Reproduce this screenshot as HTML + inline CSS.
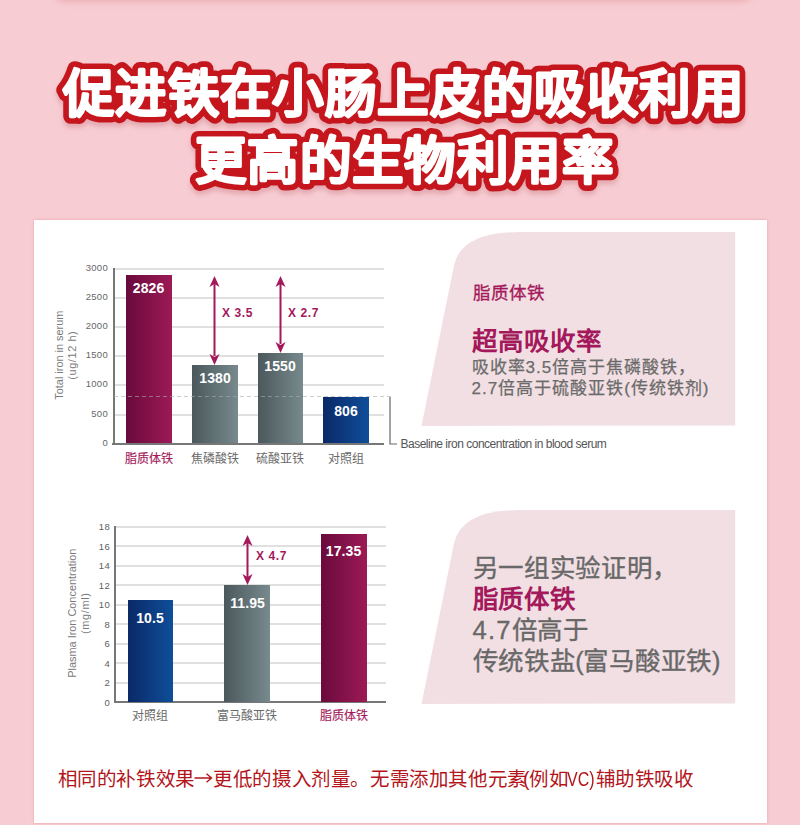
<!DOCTYPE html>
<html lang="zh-CN">
<head>
<meta charset="utf-8">
<style>
*{margin:0;padding:0;box-sizing:border-box;}
html,body{width:800px;height:825px;overflow:hidden;}
body{background:#f7cdd3;font-family:"Liberation Sans",sans-serif;position:relative;}
.abs{position:absolute;}
.topcard{position:absolute;left:54px;top:-20px;width:698px;height:20px;background:#f7cdd3;box-shadow:0 1.5px 6px rgba(228,140,140,.5);border-radius:0 0 10px 10px;}
.card{position:absolute;left:34px;top:220px;width:733px;height:603px;background:#fff;box-shadow:0 0 3px rgba(232,150,160,.75);}
.grid{position:absolute;height:2px;background:#e0e0e0;}
.axisv{position:absolute;width:2px;background:#777;}
.axish{position:absolute;height:2px;background:#777;}
.tick{position:absolute;font-size:9.5px;color:#666;text-align:right;width:40px;line-height:10px;letter-spacing:.3px;}
.bar{position:absolute;}
.mag{background:linear-gradient(to right,#6a0a3c,#9c1a56);}
.gry{background:linear-gradient(to right,#4b585c,#778a8d);}
.blu{background:linear-gradient(to right,#0a2967,#0f4e9a);}
.val{position:absolute;color:#fff;font-weight:700;font-size:14px;letter-spacing:.1px;text-indent:.1px;text-align:center;width:60px;line-height:14px;}
.cat{position:absolute;font-size:12px;color:#6a6a6a;text-align:center;width:80px;line-height:14px;white-space:nowrap;}
.cat.m{color:#a3195b;-webkit-text-stroke:.15px #a3195b;}
.mult{position:absolute;color:#a3195b;font-weight:700;font-size:12px;letter-spacing:.6px;line-height:14px;white-space:nowrap;}
.ylab{position:absolute;color:#7a7a7a;font-size:10.9px;line-height:13.2px;height:26.4px;text-align:center;white-space:nowrap;transform:rotate(-90deg);transform-origin:center center;}
.ptext{position:absolute;white-space:nowrap;}
.foot{position:absolute;top:765.7px;font-size:19.5px;letter-spacing:-0.4px;color:#b3151b;white-space:nowrap;line-height:26px;}
</style>
</head>
<body>
<div class="topcard"></div>

<svg class="abs" style="left:0;top:0;" width="800" height="210">
  <defs>
    <filter id="ts" x="-5%" y="-20%" width="110%" height="150%">
      <feGaussianBlur in="SourceAlpha" stdDeviation="2.5"/>
      <feOffset dx="0" dy="4" result="b"/>
      <feFlood flood-color="#b85a64" flood-opacity="0.32"/>
      <feComposite in2="b" operator="in"/>
      <feMerge><feMergeNode/><feMergeNode in="SourceGraphic"/></feMerge>
    </filter>
  </defs>
  <g font-family="Liberation Sans, sans-serif" font-size="51.5" font-weight="900" text-anchor="middle" letter-spacing="0.4">
    <g filter="url(#ts)" fill="#c4161c" stroke="#c4161c" stroke-width="13.6" stroke-linejoin="round">
      <text x="403.5" y="112">促进铁在小肠上皮的吸收利用</text>
      <text x="404.5" y="179">更高的生物利用率</text>
    </g>
    <g fill="#fff" stroke="#fff" stroke-width="2.2" stroke-linejoin="round">
      <text x="403.5" y="112">促进铁在小肠上皮的吸收利用</text>
      <text x="404.5" y="179">更高的生物利用率</text>
    </g>
  </g>
</svg>

<div class="card"></div>

<!-- CHART 1 -->
<div class="grid" style="left:114px;top:267.5px;width:270px;"></div>
<div class="grid" style="left:114px;top:296.5px;width:270px;"></div>
<div class="grid" style="left:114px;top:325.5px;width:270px;"></div>
<div class="grid" style="left:114px;top:354.5px;width:270px;"></div>
<div class="grid" style="left:114px;top:383.5px;width:270px;"></div>
<div class="grid" style="left:114px;top:413.5px;width:270px;"></div>

<div class="axisv" style="left:112.5px;top:268px;height:177px;"></div>
<div class="axish" style="left:112px;top:443px;width:272px;"></div>
<div class="tick" style="left:68px;top:263px;">3000</div>
<div class="tick" style="left:68px;top:292px;">2500</div>
<div class="tick" style="left:68px;top:321px;">2000</div>
<div class="tick" style="left:68px;top:350px;">1500</div>
<div class="tick" style="left:68px;top:379px;">1000</div>
<div class="tick" style="left:68px;top:409px;">500</div>
<div class="tick" style="left:68px;top:438px;">0</div>
<div class="ylab" style="left:15.6px;top:342.3px;width:100px;">Total iron in serum<br><span style="letter-spacing:.6px">(ug/12 h)</span></div>

<div class="bar mag" style="left:126px;top:275px;width:46px;height:168px;"></div>
<div class="bar gry" style="left:192px;top:365px;width:46px;height:78px;"></div>
<div class="bar gry" style="left:258px;top:353px;width:45px;height:90px;"></div>
<div class="bar blu" style="left:323px;top:397px;width:46px;height:46px;"></div>
<svg class="abs" style="left:110px;top:390px;" width="290" height="60">
  <line x1="4" y1="6.5" x2="283" y2="6.5" stroke="rgba(170,170,170,.6)" stroke-width="1" stroke-dasharray="4,3"/>
  <path d="M280 7 V54 H287" fill="none" stroke="#666" stroke-width="1.2"/>
</svg>
<div class="val" style="left:118.5px;top:281px;">2826</div>
<div class="val" style="left:185px;top:371px;">1380</div>
<div class="val" style="left:250px;top:359px;">1550</div>
<div class="val" style="left:316px;top:404px;">806</div>

<svg class="abs" style="left:200px;top:270px;" width="100" height="100">
  <g stroke="#a3195b" stroke-width="2" fill="#a3195b">
    <line x1="14.5" y1="10" x2="14.5" y2="86"/>
    <line x1="80.5" y1="10" x2="80.5" y2="74"/>
  </g>
  <g fill="#a3195b">
    <path d="M14.5 6 L9.5 17 L14.5 14 L19.5 17Z"/>
    <path d="M14.5 95 L9.5 84 L14.5 87 L19.5 84Z"/>
    <path d="M80.5 6 L75.5 17 L80.5 14 L85.5 17Z"/>
    <path d="M80.5 83 L75.5 72 L80.5 75 L85.5 72Z"/>
  </g>
</svg>
<div class="mult" style="left:222px;top:306px;">X 3.5</div>
<div class="mult" style="left:288px;top:306px;">X 2.7</div>

<div class="cat m" style="left:109px;top:451.5px;">脂质体铁</div>
<div class="cat" style="left:175px;top:451.5px;">焦磷酸铁</div>
<div class="cat" style="left:240px;top:451.5px;">硫酸亚铁</div>
<div class="cat" style="left:306px;top:451.5px;">对照组</div>
<div class="abs" style="left:400.5px;top:437px;font-size:12px;letter-spacing:-0.5px;color:#555;white-space:nowrap;line-height:14px;">Baseline iron concentration in blood serum</div>

<!-- PANEL 1 -->
<svg class="abs" style="left:420px;top:232px;" width="320" height="196">
  <path d="M1.5 194 L34 33.5 Q41 0 100 0 L315.2 0 L315.2 193.5 Z" fill="#f2dfe3"/>
</svg>
<div class="ptext" style="left:472.5px;top:283px;font-size:17.5px;letter-spacing:1.3px;color:#a3195b;line-height:20px;-webkit-text-stroke:.3px #a3195b;">脂质体铁</div>
<div class="ptext" style="left:472px;top:326px;font-size:25.5px;color:#a3195b;font-weight:700;line-height:30px;">超高吸收率</div>
<div class="ptext" style="left:471.5px;top:356.5px;font-size:17px;letter-spacing:1px;color:#6b6b6b;line-height:21px;-webkit-text-stroke:.25px #6b6b6b;">吸收率3.5倍高于焦磷酸铁，<br>2.7倍高于硫酸亚铁(传统铁剂)</div>

<!-- CHART 2 -->
<div class="grid" style="left:116px;top:525.5px;width:270px;"></div>
<div class="grid" style="left:116px;top:545px;width:270px;"></div>
<div class="grid" style="left:116px;top:564.5px;width:270px;"></div>
<div class="grid" style="left:116px;top:584px;width:270px;"></div>
<div class="grid" style="left:116px;top:603.5px;width:270px;"></div>
<div class="grid" style="left:116px;top:623px;width:270px;"></div>
<div class="grid" style="left:116px;top:642.5px;width:270px;"></div>
<div class="grid" style="left:116px;top:662px;width:270px;"></div>
<div class="grid" style="left:116px;top:681.5px;width:270px;"></div>
<div class="axisv" style="left:114px;top:526px;height:177px;"></div>
<div class="axish" style="left:114px;top:701px;width:272px;"></div>
<div class="tick" style="left:70px;top:522px;color:#5e5e5e;">18</div>
<div class="tick" style="left:70px;top:542px;color:#5e5e5e;">16</div>
<div class="tick" style="left:70px;top:561px;color:#5e5e5e;">14</div>
<div class="tick" style="left:70px;top:581px;color:#5e5e5e;">12</div>
<div class="tick" style="left:70px;top:600px;color:#5e5e5e;">10</div>
<div class="tick" style="left:70px;top:620px;color:#5e5e5e;">8</div>
<div class="tick" style="left:70px;top:639px;color:#5e5e5e;">6</div>
<div class="tick" style="left:70px;top:659px;color:#5e5e5e;">4</div>
<div class="tick" style="left:70px;top:678px;color:#5e5e5e;">2</div>
<div class="tick" style="left:70px;top:698px;color:#5e5e5e;">0</div>
<div class="ylab" style="left:-1.2px;top:600px;width:160px;">Plasma Iron Concentration<br><span style="letter-spacing:.7px">(mg/ml)</span></div>

<div class="bar blu" style="left:128px;top:600px;width:45px;height:102px;"></div>
<div class="bar gry" style="left:224px;top:585px;width:46px;height:117px;"></div>
<div class="bar mag" style="left:321px;top:534px;width:46px;height:168px;"></div>
<div class="val" style="left:120px;top:611px;">10.5</div>
<div class="val" style="left:217.5px;top:596px;">11.95</div>
<div class="val" style="left:313.5px;top:544px;">17.35</div>

<svg class="abs" style="left:237px;top:530px;" width="30" height="60">
  <line x1="10.5" y1="8" x2="10.5" y2="52" stroke="#a3195b" stroke-width="2"/>
  <g fill="#a3195b">
    <path d="M10.5 5 L5.5 16 L10.5 13 L15.5 16Z"/>
    <path d="M10.5 55 L5.5 44 L10.5 47 L15.5 44Z"/>
  </g>
</svg>
<div class="mult" style="left:256px;top:549px;">X 4.7</div>

<div class="cat" style="left:110px;top:709px;">对照组</div>
<div class="cat" style="left:207px;top:709px;">富马酸亚铁</div>
<div class="cat m" style="left:304px;top:709px;">脂质体铁</div>

<!-- PANEL 2 -->
<svg class="abs" style="left:420px;top:510px;" width="320" height="196">
  <path d="M1.5 194 L34 33.5 Q41 0 100 0 L315.2 0 L315.2 193.5 Z" fill="#f2dfe3"/>
</svg>
<div class="ptext" style="left:472.5px;top:552.5px;font-size:25.5px;color:#686868;line-height:31px;letter-spacing:-0.3px;-webkit-text-stroke:.35px #686868;">另一组实验证明，<br><span style="color:#a3195b;font-weight:700;-webkit-text-stroke:0;">脂质体铁</span><br><span style="letter-spacing:1.2px">4.7</span>倍高于<br>传统铁盐(富马酸亚铁)</div>

<div class="foot" style="left:57.5px;">相同的补铁效果</div>
<svg class="abs" style="left:193px;top:770.5px;" width="21" height="14"><path d="M1.5 7 H18.5 M13.5 2.8 L18.5 7 L13.5 11.2" fill="none" stroke="#b3151b" stroke-width="1.4"/></svg>
<div class="foot" style="left:213.3px;">更低的摄入剂量。无需添加其他元素</div>
<div class="foot" style="left:523px;">(</div>
<div class="foot" style="left:529px;">例如</div>
<div class="foot" style="left:566.5px;font-size:20px;transform:scaleX(.8);transform-origin:0 0;letter-spacing:0;">VC)</div>
<div class="foot" style="left:595.5px;">辅助铁吸收</div>
</body>
</html>
